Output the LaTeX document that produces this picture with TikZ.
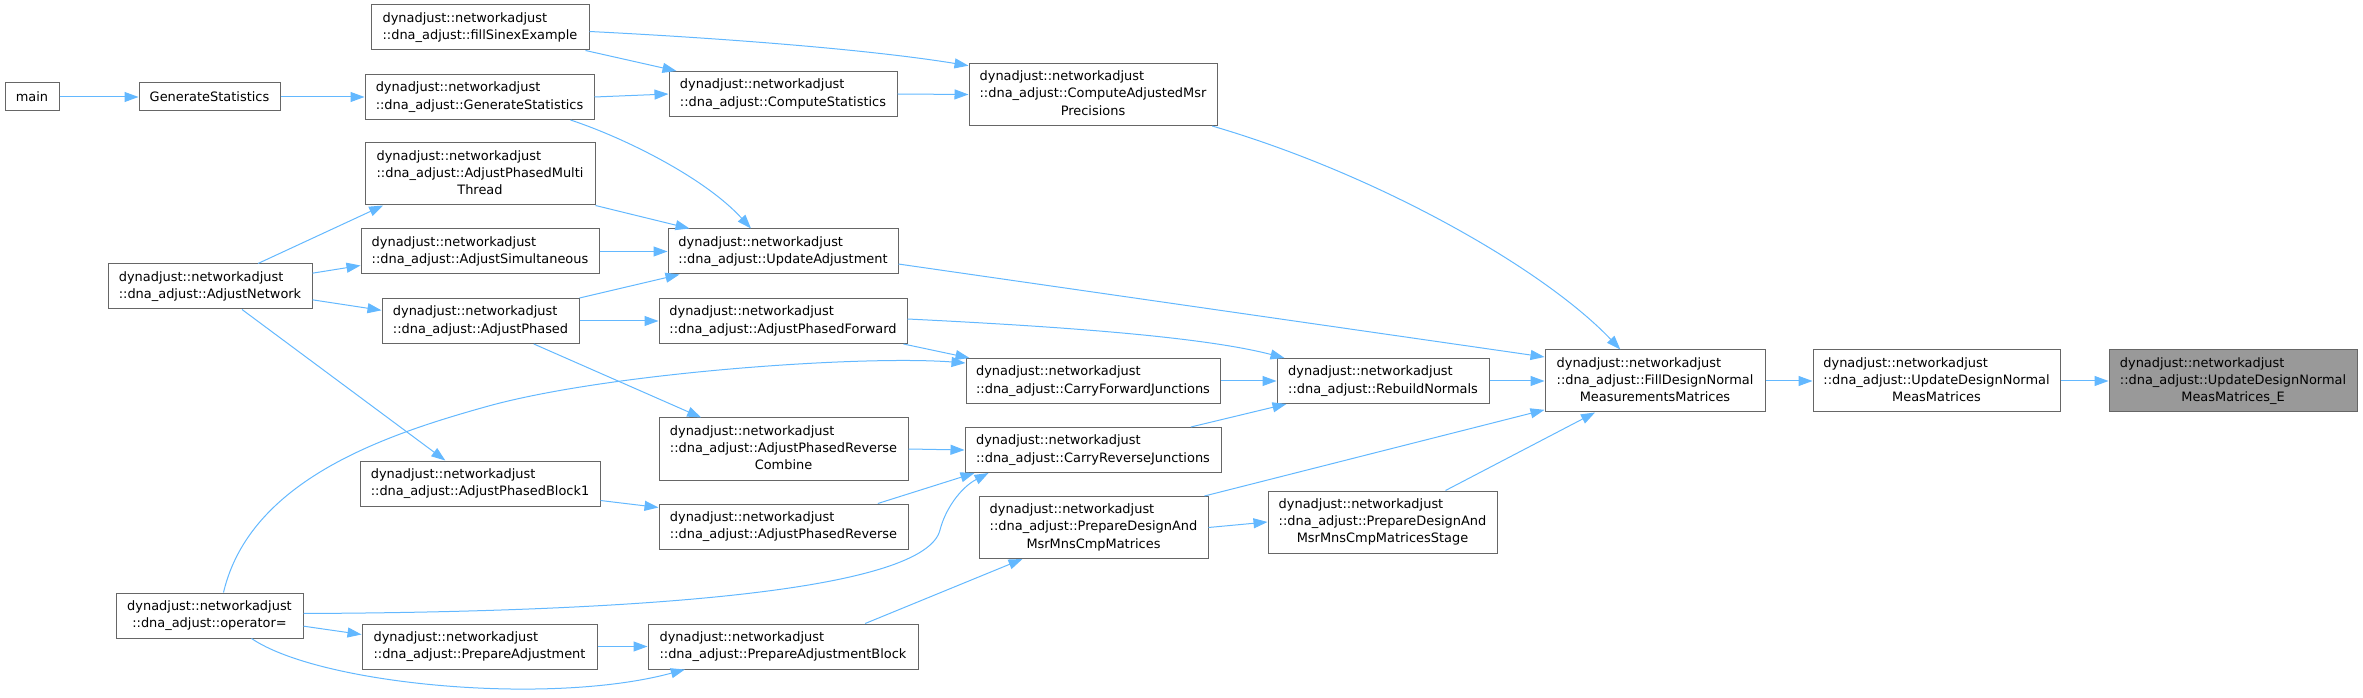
\documentclass[tikz,border=0pt]{standalone}
\usepackage{fontspec}
\setmainfont{DejaVu Sans}
\usepackage{tikz}
\usetikzlibrary{arrows.meta}
\definecolor{edgeblue}{HTML}{63B8FF}
\definecolor{boxgray}{HTML}{666666}
\definecolor{targetgray}{HTML}{999999}
\newcommand{\twol}[2]{\begin{tabular}{@{}l@{}}#1\\\multicolumn{1}{@{}c@{}}{#2}\end{tabular}}
\newcommand{\threel}[3]{\begin{tabular}{@{}l@{}}#1\\#2\\\multicolumn{1}{@{}c@{}}{#3}\end{tabular}}
\newcommand{\dn}[1]{\twol{dynadjust::networkadjust}{::dna\_adjust::#1}}
\newcommand{\dnn}[2]{\threel{dynadjust::networkadjust}{::dna\_adjust::#1}{#2}}

\begin{document}
\begin{tikzpicture}[x=0.75pt,y=-0.75pt,
	box/.style={draw=boxgray, line width=0.75pt, fill=white, inner xsep=2pt, inner ysep=0pt, font=\fontsize{9.7pt}{13.1pt}\selectfont},
	wd/.style={minimum width=#1*0.75pt},
	h1/.style={minimum height=21pt},
	h2/.style={minimum height=33.75pt},
	h3/.style={minimum height=46.5pt},
	edge/.style={edgeblue, line width=0.75pt, -{Triangle[length=10.5pt,width=7.5pt]}}]
	\useasboundingbox (0,0) rectangle (2363,698);
	\node[box,wd=54,h1] (main) at (32,97) {main};
	\node[box,wd=141,h1] (gen) at (209.5,97) {GenerateStatistics};
	\node[box,wd=229,h2] (dgen) at (479.5,97) {\dn{GenerateStatistics}};
	\node[box,wd=218,h2] (sinex) at (480,27.5) {\dn{fillSinexExample}};
	\node[box,wd=228,h2] (cstat) at (783,94) {\dn{ComputeStatistics}};
	\node[box,wd=248,h3] (cadj) at (1093,94.5) {\dnn{ComputeAdjustedMsr}{Precisions}};
	\node[box,wd=230,h3] (multi) at (480,174) {\dnn{AdjustPhasedMulti}{Thread}};
	\node[box,wd=238,h2] (simul) at (480,251.5) {\dn{AdjustSimultaneous}};
	\node[box,wd=230,h2] (upd) at (783,251.5) {\dn{UpdateAdjustment}};
	\node[box,wd=204,h2] (net) at (210,286.5) {\dn{AdjustNetwork}};
	\node[box,wd=197,h2] (ph) at (480.5,321) {\dn{AdjustPhased}};
	\node[box,wd=248,h2] (fwd) at (783,321) {\dn{AdjustPhasedForward}};
	\node[box,wd=254,h2] (cfj) at (1093,381) {\dn{CarryForwardJunctions}};
	\node[box,wd=212,h2] (rebuild) at (1383,381) {\dn{RebuildNormals}};
	\node[box,wd=220,h3] (fill) at (1655,381) {\dnn{FillDesignNormal}{MeasurementsMatrices}};
	\node[box,wd=247,h3] (udn) at (1936.5,381) {\dnn{UpdateDesignNormal}{MeasMatrices}};
	\node[box,wd=248,h3,fill=targetgray] (target) at (2233,381) {\dnn{UpdateDesignNormal}{MeasMatrices\_E}};
	\node[box,wd=249,h3] (rcomb) at (783.5,449) {\dnn{AdjustPhasedReverse}{Combine}};
	\node[box,wd=256,h2] (crj) at (1093,450) {\dn{CarryReverseJunctions}};
	\node[box,wd=240,h2] (blk1) at (480,483.5) {\dn{AdjustPhasedBlock1}};
	\node[box,wd=249,h2] (rev) at (783.5,526.5) {\dn{AdjustPhasedReverse}};
	\node[box,wd=229,h3] (pdm) at (1093.5,527.5) {\dnn{PrepareDesignAnd}{MsrMnsCmpMatrices}};
	\node[box,wd=229,h3] (pds) at (1382.5,522) {\dnn{PrepareDesignAnd}{MsrMnsCmpMatricesStage}};
	\node[box,wd=187,h2] (op) at (209.5,615.5) {\dn{operator=}};
	\node[box,wd=235,h2] (padj) at (479.5,646.5) {\dn{PrepareAdjustment}};
	\node[box,wd=270,h2] (pblk) at (783,646.5) {\dn{PrepareAdjustmentBlock}};
	\foreach \a/\b in {main/gen, gen/dgen, dgen/cstat, cstat/cadj, simul/upd, ph/fwd, cfj/rebuild, rebuild/fill, fill/udn, udn/target, rcomb/crj, pdm/pds, padj/pblk} {
		\draw[edge] (\a.east) -- (\b.west);
	}
	\draw[edge] ([xshift=-18pt]dgen.south east) .. controls (625,138) and (705,178) .. ([xshift=-24pt]upd.north);
	\draw[edge] ([xshift=-3pt]sinex.south east) -- ([xshift=6pt]cstat.north west);
	\draw[edge] ([yshift=-3pt]sinex.east) .. controls (700,37) and (860,48) .. ([yshift=-2pt]cadj.north west);
	\draw[edge] ([xshift=-4pt]cadj.south east) .. controls (1380,175) and (1545,270) .. ([xshift=-26pt]fill.north);
	\draw[edge] ([xshift=36pt]net.north) -- ([xshift=14pt]multi.south west);
	\draw[edge] ([yshift=10pt]net.east) -- ([yshift=-10.5pt]simul.west);
	\draw[edge] ([yshift=-10pt]net.east) -- ([yshift=8pt]ph.west);
	\draw[edge] ([xshift=24pt]net.south) -- ([xshift=-26pt]blk1.north);
	\draw[edge] (multi.south east) -- ([xshift=16.5pt]upd.north west);
	\draw[edge] (ph.north east) -- ([xshift=9pt]upd.south west);
	\draw[edge] ([xshift=40pt]ph.south) -- ([xshift=32pt]rcomb.north west);
	\draw[edge] ([yshift=-9.4pt]upd.east) -- ([yshift=18pt]fill.west);
	\draw[edge] ([xshift=-3pt]fwd.south east) -- ([xshift=3pt]cfj.north west);
	\draw[edge] ([yshift=1.5pt]fwd.east) .. controls (1050,326) and (1200,336) .. ([xshift=6pt]rebuild.north west);
	\draw[edge] ([xshift=10.5pt]op.north) .. controls (250,480) and (385,435) .. (485,407) .. controls (605,373) and (860,355) .. ([yshift=13.5pt]cfj.west);
	\draw[edge] ([xshift=-23pt]rev.north east) -- ([xshift=7.5pt]crj.south west);
	\draw[edge] ([yshift=1.5pt]op.east) .. controls (650,612) and (925,590) .. (940,530) .. controls (945,510) and (960,488) .. ([xshift=18pt]crj.south west);
	\draw[edge] ([xshift=-23pt]crj.north east) -- ([xshift=7.5pt]rebuild.south west);
	\draw[edge] ([yshift=-12.75pt]blk1.east) -- ([yshift=14.25pt]rev.west);
	\draw[edge] ([yshift=-8pt]op.east) -- ([yshift=9pt]padj.west);
	\draw[edge] ([xshift=31.5pt]op.south) .. controls (320,685) and (550,706) .. ([xshift=28pt]pblk.south west);
	\draw[edge] ([xshift=-40pt]pblk.north east) -- ([xshift=33pt]pdm.south west);
	\draw[edge] ([xshift=-3pt]pdm.north east) -- ([yshift=2pt]fill.south west);
	\draw[edge] ([xshift=-39pt]pds.north east) -- ([xshift=-45pt]fill.south);
\end{tikzpicture}
\end{document}
